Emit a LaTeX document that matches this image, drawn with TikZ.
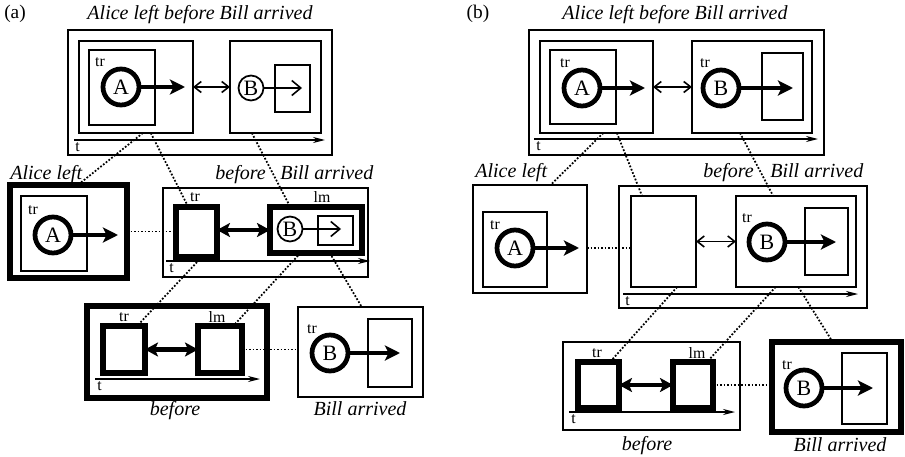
\documentclass[tikz,border=0pt]{standalone}
\usepackage{fontspec}
\setmainfont{Liberation Serif}
\usetikzlibrary{arrows.meta,fit,calc}
\tikzset{
  frame/.style={draw,line width=1pt,inner sep=0pt,outer sep=0pt},
  heavy/.style={draw,line width=3pt,inner sep=0pt,outer sep=0pt},
  ring/.style={circle,draw,line width=2.7pt,inner sep=0pt,minimum size=0.72cm,
    font=\fontsize{12.5}{13}\selectfont},
  thinring/.style={circle,draw,line width=1pt,inner sep=0pt,minimum size=0.5cm,
    font=\fontsize{12.5}{13}\selectfont},
  fat/.style={line width=2.5pt,-{Stealth[length=0.3cm,width=0.3cm,inset=0.07cm]}},
  fatboth/.style={line width=2.5pt,{Stealth[length=0.26cm,width=0.28cm,inset=0.06cm]}-{Stealth[length=0.26cm,width=0.28cm,inset=0.06cm]}},
  slim/.style={line width=0.9pt,{Straight Barb[length=0.14cm,width=0.22cm]}-{Straight Barb[length=0.14cm,width=0.22cm]}},
  slimto/.style={line width=0.9pt,-{Straight Barb[length=0.18cm,width=0.3cm]}},
  axis/.style={line width=0.9pt,-{Stealth[length=0.24cm,width=0.12cm]}},
  link/.style={densely dotted,line width=1pt},
  tag/.style={font=\fontsize{9}{9}\selectfont,inner sep=0pt},
  caption/.style={font=\fontsize{11.4}{13}\selectfont\itshape,inner sep=0pt,anchor=base},
  panel/.style={font=\fontsize{11}{13}\selectfont,inner sep=0pt},
}
\begin{document}
\begin{tikzpicture}[x=0.02cm,y=-0.02cm]
\useasboundingbox (0,0) rectangle (905,456);
% (a)
\node[panel] (aName) at (15,14) {(a)};
\node[caption] (aTitle) at (200,20) {Alice left before Bill arrived};
\node[frame,fit={(68,30) (332,155)}] (aTop) {};
\node[frame,fit={(79,41) (193,133)}] (aTopL) {};
\node[frame,fit={(89,50) (155,125)}] (aTopLin) {};
\node[ring] (aTopA) at (121,87) {A};
\node[tag] (aTagTopA) at (100,62) {tr};
\draw[fat,shorten >=0.16cm] (aTopA) -- (aTopA -| aTopL.east);
\node[frame,fit={(230,41) (321,133)}] (aTopR) {};
\node[frame,fit={(275,65) (310,112)}] (aTopRin) {};
\node[thinring] (aTopB) at (251,88) {B};
\draw[slimto,shorten >=0.16cm] (aTopB) -- (aTopB -| aTopRin.east);
\draw[slim] (aTopL.east) -- (aTopR.west);
\draw[axis] (74,140) -- (325,140);
\node[tag,anchor=base west] (aTopT) at (75,151) {t};

\node[caption,anchor=base west] (aAliceCap) at (10,179) {Alice left};
\node[heavy,fit={(10,185) (127,278)}] (aAL) {};
\node[frame,fit={(21,196) (87,271)}] (aALin) {};
\node[ring] (aMidA) at (53,235) {A};
\node[tag] (aTagMidA) at (33,210) {tr};
\draw[fat,shorten >=0.18cm] (aMidA) -- (aMidA -| aAL.east);
\node[caption,anchor=base west] (aBeforeCap) at (215,179) {before};
\node[caption,anchor=base west] (aBillCap) at (280,179) {Bill arrived};
\node[frame,fit={(163,188) (368,277)}] (aMid) {};
\node[heavy,fit={(176,207) (217,257)}] (aMidTr) {};
\node[heavy,fit={(270,207) (362,253)}] (aMidLm) {};
\node[frame,fit={(318,216) (353,245)}] (aMidLmIn) {};
\node[thinring] (aMidB) at (290,229) {B};
\node[tag] (aTagMidTr) at (195,197) {tr};
\node[tag] (aTagMidLm) at (322,197) {lm};
\draw[slimto,shorten >=0.24cm] (aMidB) -- (aMidB -| aMidLmIn.east);
\draw[fatboth] (aMidTr.east |- aMidLm.west) -- (aMidLm.west);
\draw[axis] (166,261) -- (370,261);
\node[tag,anchor=base west] (aMidT) at (169,272) {t};
\draw[link] (aAL.east) -- (aAL.east -| aMidTr.west);

\node[heavy,fit={(87,306) (267,398)}] (aBot) {};
\node[heavy,fit={(103,326) (145,373)}] (aBotTr) {};
\node[heavy,fit={(198,326) (242,373)}] (aBotLm) {};
\node[tag] (aTagBotTr) at (124,317) {tr};
\node[tag] (aTagBotLm) at (217,317) {lm};
\draw[fatboth] (aBotTr) -- (aBotLm);
\draw[axis] (95,379) -- (260,379);
\node[tag,anchor=base west] (aBotT) at (97,390) {t};
\node[caption] (aBotCap) at (175,415) {before};
\node[frame,fit={(298,307) (423,397)}] (aBill) {};
\node[frame,fit={(368,319) (412,387)}] (aBillIn) {};
\node[ring] (aBillB) at (330,353) {B};
\node[tag] (aTagBill) at (312,329) {tr};
\draw[fat,shorten >=0.24cm] (aBillB) -- (aBillB -| aBillIn.east);
\node[caption] (aBillCap2) at (360,415) {Bill arrived};
\draw[link] (aBotLm.east) -- (aBotLm.east -| aBill.west);

\draw[link] ($(aTopL.south west)!0.56!(aTopL.south east)$) -- ($(aAL.north west)!0.58!(aAL.north east)$);
\draw[link] ($(aTopL.south west)!0.63!(aTopL.south east)$) -- ($(aMidTr.north west)!0.3!(aMidTr.north east)$);
\draw[link] ($(aTopR.south west)!0.24!(aTopR.south east)$) -- ($(aMidLm.north west)!0.22!(aMidLm.north east)$);
\draw[link] ($(aMidTr.south west)!0.63!(aMidTr.south east)$) -- ($(aBotTr.north west)!0.81!(aBotTr.north east)$);
\draw[link] ($(aMidLm.south west)!0.33!(aMidLm.south east)$) -- ($(aBotLm.north west)!0.8!(aBotLm.north east)$);
\draw[link] ($(aMidLm.south west)!0.65!(aMidLm.south east)$) -- ($(aBill.north west)!0.51!(aBill.north east)$);

% (b)
\node[panel] (bName) at (478,14) {(b)};
\node[caption] (bTitle) at (675,20) {Alice left before Bill arrived};
\node[frame,fit={(529,30) (824,155)}] (bTop) {};
\node[frame,fit={(540,41) (653,133)}] (bTopL) {};
\node[frame,fit={(550,50) (616,124)}] (bTopLin) {};
\node[ring] (bTopA) at (582,88) {A};
\node[tag] (bTagTopA) at (565,63) {tr};
\draw[fat,shorten >=0.16cm] (bTopA) -- (bTopA -| bTopL.east);
\node[frame,fit={(692,41) (812,133)}] (bTopR) {};
\node[frame,fit={(762,53) (803,120)}] (bTopRin) {};
\node[ring] (bTopB) at (721,88) {B};
\node[tag] (bTagTopB) at (705,63) {tr};
\draw[fat,shorten >=0.2cm] (bTopB) -- (bTopB -| bTopRin.east);
\draw[slim] (bTopL.east) -- (bTopR.west);
\draw[axis] (534,139) -- (818,139);
\node[tag,anchor=base west] (bTopT) at (536,150) {t};

\node[caption,anchor=base west] (bAliceCap) at (475,177) {Alice left};
\node[frame,fit={(473,185) (587,293)}] (bAL) {};
\node[frame,fit={(483,212) (547,287)}] (bALin) {};
\node[ring] (bMidA) at (515,248) {A};
\node[tag] (bTagMidA) at (495,225) {tr};
\draw[fat,shorten >=0.16cm] (bMidA) -- (bMidA -| bAL.east);
\node[caption,anchor=base west] (bBeforeCap) at (703,177) {before};
\node[caption,anchor=base west] (bBillCap) at (770,177) {Bill arrived};
\node[frame,fit={(619,186) (867,308)}] (bMid) {};
\node[frame,fit={(631,196) (696,287)}] (bMidE) {};
\node[frame,fit={(736,196) (856,287)}] (bMidR) {};
\node[frame,fit={(805,208) (848,275)}] (bMidRin) {};
\node[ring] (bMidB) at (767,242) {B};
\node[tag] (bTagMidB) at (747,218) {tr};
\draw[fat,shorten >=0.24cm] (bMidB) -- (bMidB -| bMidRin.east);
\draw[slim] (bMidE.east) -- (bMidR.west);
\draw[axis] (623,294) -- (858,294);
\node[tag,anchor=base west] (bMidT) at (625,305) {t};
\draw[link] (bMidA -| bAL.east) -- (bMidA -| bMidE.west);

\node[frame,fit={(563,342) (740,430)}] (bBot) {};
\node[heavy,fit={(578,362) (619,408)}] (bBotTr) {};
\node[heavy,fit={(673,362) (713,408)}] (bBotLm) {};
\node[tag] (bTagBotTr) at (597,353) {tr};
\node[tag] (bTagBotLm) at (697,353) {lm};
\draw[fatboth] (bBotTr) -- (bBotLm);
\draw[axis] (569,412) -- (735,412);
\node[tag,anchor=base west] (bBotT) at (571,423) {t};
\node[caption] (bBotCap) at (647,450) {before};
\node[heavy,fit={(772,342) (901,432)}] (bBill) {};
\node[frame,fit={(842,353) (887,424)}] (bBillIn) {};
\node[ring] (bBillB) at (804,388) {B};
\node[tag] (bTagBill) at (787,365) {tr};
\draw[fat,shorten >=0.28cm] (bBillB) -- (bBillB -| bBillIn.east);
\node[caption] (bBillCap2) at (840,451) {Bill arrived};
\draw[link] (bBotLm.east) -- (bBotLm.east -| bBill.west);

\draw[link] ($(bTopL.south west)!0.56!(bTopL.south east)$) -- ($(bAL.north west)!0.68!(bAL.north east)$);
\draw[link] ($(bTopL.south west)!0.68!(bTopL.south east)$) -- ($(bMidE.north west)!0.17!(bMidE.north east)$);
\draw[link] ($(bTopR.south west)!0.4!(bTopR.south east)$) -- ($(bMidR.north west)!0.31!(bMidR.north east)$);
\draw[link] ($(bMidE.south west)!0.71!(bMidE.south east)$) -- ($(bBotTr.north west)!0.78!(bBotTr.north east)$);
\draw[link] ($(bMidR.south west)!0.33!(bMidR.south east)$) -- ($(bBotLm.north west)!0.85!(bBotLm.north east)$);
\draw[link] ($(bMidR.south west)!0.52!(bMidR.south east)$) -- ($(bBill.north west)!0.47!(bBill.north east)$);
\end{tikzpicture}
\end{document}
